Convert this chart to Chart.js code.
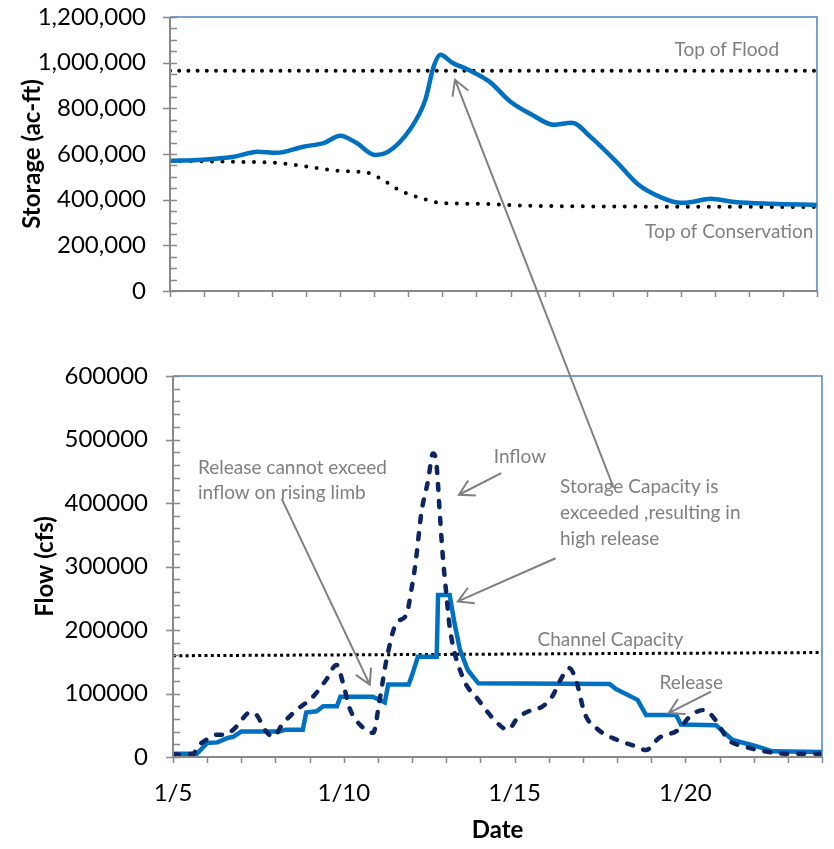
<!DOCTYPE html>
<html>
<head>
<meta charset="utf-8">
<script src="https://cdn.jsdelivr.net/npm/chart.js@4/dist/chart.umd.min.js"></script>
<style>
  body { margin: 0; background: #fff; }
  canvas { position: absolute; left: 0; top: 0; }
</style>
</head>
<body>
<canvas id="storageChart" width="834" height="320"></canvas>
<canvas id="flowChart" width="834" height="849"></canvas>
<script>
// ---- data (x = days after 1/5) ----
const dateLabels = ['1/5', '1/10', '1/15', '1/20'];
const labelDays = [0, 5, 10, 15];
const lastDay = 19;

// storage, ac-ft
const storageDays = [0, 0.94, 1.88, 2.58, 3.13, 3.91, 4.53, 5.0, 5.47, 6.02, 6.41, 7.04, 7.5, 7.74, 7.94, 8.29, 8.76, 9.38, 10.0, 10.63, 11.26, 11.8, 12.35, 13.14, 13.76, 14.39, 15.0, 15.32, 15.87, 16.58, 17.67, 19];
const storage = [570000, 575000, 588000, 610000, 605000, 632000, 649000, 680000, 649000, 596000, 610000, 706000, 838000, 982000, 1035000, 1000000, 969000, 917000, 829000, 772000, 728000, 737000, 675000, 561000, 465000, 412000, 386000, 390000, 404000, 390000, 382000, 377000];
const floodDays = [0, 19];
const topOfFlood = [965000, 965000];
const consDays = [0, 1.88, 3.13, 4.07, 5.0, 5.79, 6.25, 6.72, 7.35, 7.97, 9.07, 10.63, 19];
const topOfCons = [570000, 566000, 561000, 544000, 526000, 518000, 487000, 443000, 408000, 386000, 382000, 373000, 368000];

// flow, cfs
const inflowDays = [0, 0.6, 0.7, 1.0, 1.28, 1.52, 1.86, 2.25, 2.45, 2.69, 2.93, 3.22, 3.62, 4.1, 4.49, 4.79, 4.98, 5.17, 5.47, 5.86, 6.05, 6.25, 6.54, 6.83, 7.0, 7.1, 7.27, 7.47, 7.61, 7.71, 7.81, 7.9, 8.0, 8.1, 8.47, 8.94, 9.4, 9.8, 10.1, 10.5, 10.8, 11.1, 11.35, 11.6, 11.82, 12.05, 12.45, 13.0, 13.54, 13.85, 14.23, 14.8, 15.17, 15.56, 15.87, 16.26, 16.7, 17.3, 17.98, 19];
const inflow = [4000, 5000, 15000, 28000, 35000, 35000, 48000, 70000, 66000, 43000, 32000, 53000, 74000, 95000, 122000, 145000, 116000, 77000, 51000, 38000, 90000, 153000, 211000, 224000, 270000, 305000, 384000, 436000, 478000, 463000, 384000, 315000, 258000, 205000, 127000, 90000, 59000, 43000, 62000, 74000, 79000, 95000, 122000, 140000, 117000, 69000, 43000, 27000, 17000, 11000, 30000, 43000, 66000, 74000, 59000, 27000, 17000, 9000, 5000, 5000];
const releaseDays = [0, 0.7, 1.0, 1.3, 1.6, 1.77, 2.0, 3.1, 3.3, 3.8, 3.9, 4.2, 4.4, 4.8, 4.9, 5.85, 6.2, 6.3, 6.9, 7.0, 7.17, 7.72, 7.76, 8.1, 8.24, 8.4, 8.63, 8.94, 12.78, 12.97, 13.6, 13.85, 14.73, 14.87, 15.9, 16.38, 17.07, 17.55, 19];
const release = [5000, 5000, 22000, 23000, 30000, 32000, 40000, 40000, 43000, 43000, 70000, 72000, 80000, 80000, 95000, 95000, 86000, 114000, 114000, 129000, 158000, 158000, 255000, 255000, 211000, 169000, 137000, 116000, 115000, 107000, 90000, 66000, 66000, 51000, 50000, 27000, 17000, 9000, 8000];
const channelDays = [0, 19];
const channelCapacity = [159500, 164500];

const pts = (xs, ys) => xs.map((x, i) => ({ x: x, y: ys[i] }));

const GRAY = '#7f7f7f';
const FONT = 'Lato, "Open Sans", sans-serif';

// axis lines, minor ticks and plot frame
const axisMarks = {
  id: 'axisMarks',
  afterDatasetsDraw(chart, args, opts) {
    const { ctx, chartArea: a, scales: { x, y } } = chart;
    ctx.save();
    ctx.strokeStyle = '#4f81bd';
    ctx.lineWidth = 1.5;
    ctx.beginPath();
    ctx.moveTo(a.left, a.top);
    ctx.lineTo(a.right, a.top);
    ctx.lineTo(a.right, a.bottom);
    ctx.stroke();

    ctx.strokeStyle = '#898989';
    ctx.lineWidth = 2;
    ctx.beginPath();
    ctx.moveTo(a.left, a.top);
    ctx.lineTo(a.left, a.bottom);
    ctx.lineTo(a.right, a.bottom);
    ctx.stroke();

    ctx.lineWidth = 1.5;
    ctx.beginPath();
    for (let v = y.min; v <= y.max; v += opts.minor) {
      const py = Math.round(y.getPixelForValue(v)) + 0.5;
      const major = v % opts.major === 0;
      ctx.moveTo(a.left - (major ? 7 : 0), py);
      ctx.lineTo(a.left + 7, py);
    }
    for (let d = 0; d <= lastDay; d++) {
      const px = Math.round(x.getPixelForValue(d)) + 0.5;
      ctx.moveTo(px, a.bottom);
      ctx.lineTo(px, a.bottom + 6);
    }
    ctx.stroke();
    ctx.restore();
  }
};

// gray callout texts and arrows, placed in data coordinates
const notes = {
  id: 'notes',
  afterDraw(chart, args, opts) {
    const { ctx } = chart;
    const at = (c, p) => [c.scales.x.getPixelForValue(p[0]), c.scales.y.getPixelForValue(p[1])];
    ctx.save();
    ctx.font = '19px ' + FONT;
    ctx.fillStyle = GRAY;
    ctx.textBaseline = 'middle';
    opts.texts.forEach(t => {
      const [px, py] = at(chart, t.at);
      ctx.textAlign = t.align || 'left';
      ctx.fillText(t.text, px, py);
    });
    ctx.strokeStyle = GRAY;
    ctx.lineWidth = 2;
    opts.arrows.forEach(ar => {
      const [x1, y1] = at(chart, ar.from);
      const [x2, y2] = at(ar.tipChart ? ar.tipChart() : chart, ar.to);
      const ang = Math.atan2(y1 - y2, x1 - x2);
      ctx.beginPath();
      ctx.moveTo(x1, y1);
      ctx.lineTo(x2, y2);
      ctx.moveTo(x2 + 17 * Math.cos(ang - 0.52), y2 + 17 * Math.sin(ang - 0.52));
      ctx.lineTo(x2, y2);
      ctx.lineTo(x2 + 17 * Math.cos(ang + 0.52), y2 + 17 * Math.sin(ang + 0.52));
      ctx.stroke();
    });
    ctx.restore();
  }
};

function xAxis(height, showLabels, titleOn) {
  return {
    type: 'linear',
    min: 0,
    max: lastDay,
    grid: { display: false, drawTicks: false },
    border: { display: false },
    afterBuildTicks: s => { s.ticks = labelDays.map(v => ({ value: v })); },
    afterFit: s => { s.height = height; s.paddingLeft = 0; s.paddingRight = 0; },
    ticks: {
      display: showLabels,
      padding: 22,
      color: '#000',
      font: { family: FONT, size: 24 },
      maxRotation: 0,
      callback: v => dateLabels[labelDays.indexOf(v)] || ''
    },
    title: {
      display: titleOn,
      text: 'Date',
      color: '#000',
      font: { family: FONT, size: 24, weight: 'bold' },
      padding: { top: 0, bottom: 4 }
    }
  };
}

function yAxis(width, max, step, fmt, title, titlePad, labelPad) {
  return {
    min: 0,
    max: max,
    grid: { display: false, drawTicks: false },
    border: { display: false },
    // fixed axis width; the end labels may hang over the plot edges
    afterFit: s => { s.width = width; s.paddingTop = 0; s.paddingBottom = 0; },
    ticks: {
      stepSize: step,
      padding: labelPad,
      color: '#000',
      font: { family: FONT, size: 24 },
      callback: fmt
    },
    title: {
      display: true,
      text: title,
      color: '#000',
      font: { family: FONT, size: 24, weight: 'bold' },
      padding: { top: titlePad, bottom: 0 }
    }
  };
}

const storageChart = new Chart(document.getElementById('storageChart'), {
  type: 'line',
  data: {
    datasets: [
      {
        data: pts(storageDays, storage),
        borderColor: '#0070c0',
        borderWidth: 4.5,
        cubicInterpolationMode: 'monotone',
        pointRadius: 0,
        order: 1
      },
      {
        data: pts(floodDays, topOfFlood),
        borderColor: '#000',
        borderWidth: 4,
        borderDash: [0, 9.2],
        borderCapStyle: 'round',
        pointRadius: 0,
        order: 2
      },
      {
        data: pts(consDays, topOfCons),
        borderColor: '#000',
        borderWidth: 4,
        borderDash: [0, 10.5],
        borderCapStyle: 'round',
        cubicInterpolationMode: 'monotone',
        pointRadius: 0,
        order: 2
      }
    ]
  },
  options: {
    responsive: false,
    animation: false,
    devicePixelRatio: 1,
    layout: { padding: { top: 17, right: 17, left: 0, bottom: 19 } },
    plugins: {
      legend: { display: false },
      tooltip: { enabled: false },
      axisMarks: { minor: 50000, major: 200000 },
      notes: {
        texts: [
          { text: 'Top of Flood', at: [16.35, 1057000], align: 'center' },
          { text: 'Top of Conservation', at: [16.42, 259000], align: 'center' }
        ],
        arrows: []
      }
    },
    scales: {
      x: xAxis(10, false, false),
      y: yAxis(170, 1200000, 200000, v => v.toLocaleString('en-US'), 'Storage (ac-ft)', 18, 24)
    }
  },
  plugins: [axisMarks, notes]
});

new Chart(document.getElementById('flowChart'), {
  type: 'line',
  data: {
    datasets: [
      {
        data: pts(releaseDays, release),
        borderColor: '#0070c0',
        borderWidth: 4.5,
        tension: 0,
        pointRadius: 0,
        order: 2
      },
      {
        data: pts(inflowDays, inflow),
        borderColor: '#0d2562',
        borderWidth: 4.5,
        borderDash: [6, 11],
        borderCapStyle: 'round',
        cubicInterpolationMode: 'monotone',
        pointRadius: 0,
        order: 1
      },
      {
        data: pts(channelDays, channelCapacity),
        borderColor: '#000',
        borderWidth: 3,
        borderDash: [3, 3.3],
        pointRadius: 0,
        order: 3
      }
    ]
  },
  options: {
    responsive: false,
    animation: false,
    devicePixelRatio: 1,
    layout: { padding: { top: 376, right: 12, left: 0, bottom: 0 } },
    plugins: {
      legend: { display: false },
      tooltip: { enabled: false },
      axisMarks: { minor: 20000, major: 100000 },
      notes: {
        texts: [
          { text: 'Release cannot exceed', at: [0.73, 456000] },
          { text: 'inflow on rising limb', at: [0.73, 416000] },
          { text: 'Inflow', at: [9.39, 472000] },
          { text: 'Storage Capacity is', at: [11.33, 426000] },
          { text: 'exceeded ,resulting in', at: [11.33, 385000] },
          { text: 'high release', at: [11.33, 344000] },
          { text: 'Channel Capacity', at: [10.67, 184500] },
          { text: 'Release', at: [14.24, 116000] }
        ],
        arrows: [
          { from: [12.9, 424000], to: [8.37, 925000], tipChart: () => storageChart },
          { from: [3.18, 407000], to: [5.76, 114000] },
          { from: [9.61, 447000], to: [8.37, 413000] },
          { from: [11.2, 313000], to: [8.34, 245000] },
          { from: [15.75, 103000], to: [14.51, 69000] }
        ]
      }
    },
    scales: {
      x: xAxis(92, true, true),
      y: yAxis(173, 600000, 100000, v => String(v), 'Flow (cfs)', 31, 25)
    }
  },
  plugins: [axisMarks, notes]
});
</script>
</body>
</html>
